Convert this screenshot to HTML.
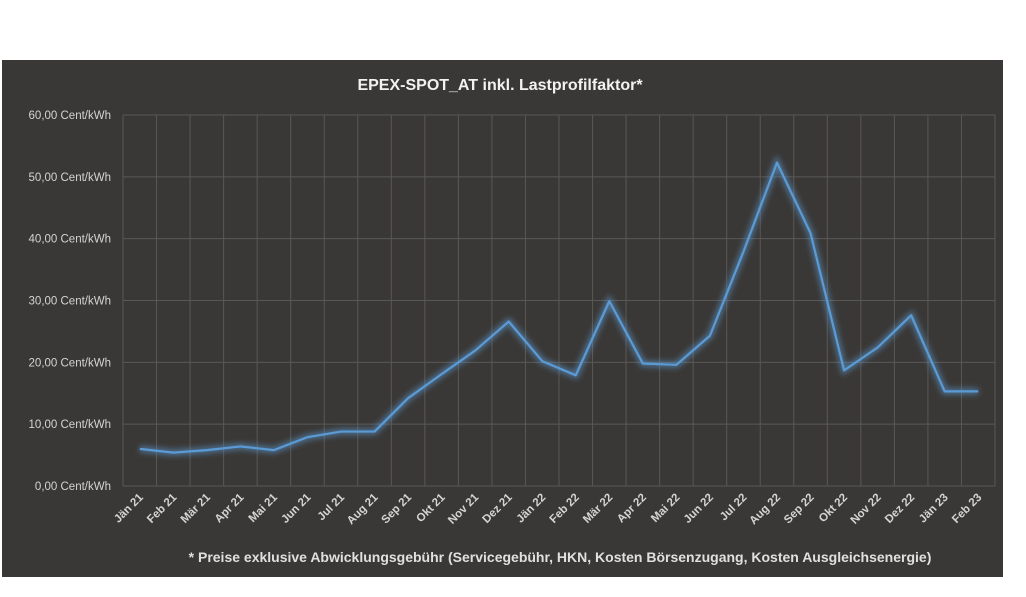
<!DOCTYPE html>
<html><head><meta charset="utf-8"><style>
body{margin:0;background:#fff;width:1026px;height:597px;overflow:hidden}
svg{display:block;font-family:"Liberation Sans",sans-serif}
</style></head><body>
<svg width="1026" height="597">
<defs><filter id="glow" x="-10%" y="-10%" width="120%" height="120%"><feGaussianBlur stdDeviation="3"/></filter></defs>
<rect x="2" y="60" width="1001" height="517" fill="#3a3836"/>
<text x="500" y="90" fill="#f2f2f2" font-size="16" font-weight="bold" text-anchor="middle">EPEX-SPOT_AT inkl. Lastprofilfaktor*</text>
<g id="grid"></g><g id="ylab"></g><g id="xlab"></g><g id="series"></g>
<text x="560" y="562" fill="#e0e0e0" font-size="14" font-weight="bold" text-anchor="middle">* Preise exklusive Abwicklungsgebühr (Servicegebühr, HKN, Kosten Börsenzugang, Kosten Ausgleichsenergie)</text>
</svg>
<script>
const categories=["Jän 21","Feb 21","Mär 21","Apr 21","Mai 21","Jun 21","Jul 21","Aug 21","Sep 21","Okt 21","Nov 21","Dez 21","Jän 22","Feb 22","Mär 22","Apr 22","Mai 22","Jun 22","Jul 22","Aug 22","Sep 22","Okt 22","Nov 22","Dez 22","Jän 23","Feb 23"];
const values=[6.0,5.4,5.8,6.4,5.8,7.9,8.8,8.8,14.2,18.1,21.9,26.6,20.2,17.9,29.9,19.8,19.6,24.3,37.9,52.3,40.9,18.7,22.4,27.6,15.3,15.3];
const yTicks=[0,10,20,30,40,50,60];
const yTickLabels=["0,00 Cent/kWh","10,00 Cent/kWh","20,00 Cent/kWh","30,00 Cent/kWh","40,00 Cent/kWh","50,00 Cent/kWh","60,00 Cent/kWh"];
const NS="http://www.w3.org/2000/svg";
const L=123,R=995,T=115,B=486,yMax=60;
const bw=(R-L)/categories.length;
const y=v=>B-(v/yMax)*(B-T);
const xc=i=>L+bw*(i+0.5);
function mk(tag,attrs,parent){const e=document.createElementNS(NS,tag);for(const k in attrs)e.setAttribute(k,attrs[k]);document.getElementById(parent).appendChild(e);return e;}
yTicks.forEach((t,i)=>{
 const g=mk("line",{x1:L,x2:R,y1:y(t),y2:y(t),stroke:"#5a5856","stroke-width":1},"grid");
 
 
 const tx=mk("text",{x:111,y:y(t)+4,fill:"#d4d4d4","font-size":11.5,"text-anchor":"end"},"ylab");
 tx.textContent=yTickLabels[i];
 
 
});
for(let i=0;i<=categories.length;i++){
 const g=mk("line",{x1:L+bw*i,x2:L+bw*i,y1:T,y2:B,stroke:"#5a5856","stroke-width":1},"grid");
 
 
}
categories.forEach((c,i)=>{
 const px=xc(i)+4,py=B+12;
 const tx=mk("text",{x:px,y:py,fill:"#d4d4d4","font-size":11.5,"font-weight":"bold","text-anchor":"end",transform:`rotate(-45 ${px} ${py})`},"xlab");
 tx.textContent=c;
 
 
});
const pts=values.map((v,i)=>xc(i)+","+y(v)).join(" ");
const glow=mk("polyline",{points:pts,fill:"none",stroke:"#5b9bd5","stroke-width":6,"stroke-opacity":0.6,filter:"url(#glow)"},"series");


const line=mk("polyline",{points:pts,fill:"none",stroke:"#5b9bd5","stroke-width":2.2,"stroke-linejoin":"round"},"series");


</script>
</body></html>
